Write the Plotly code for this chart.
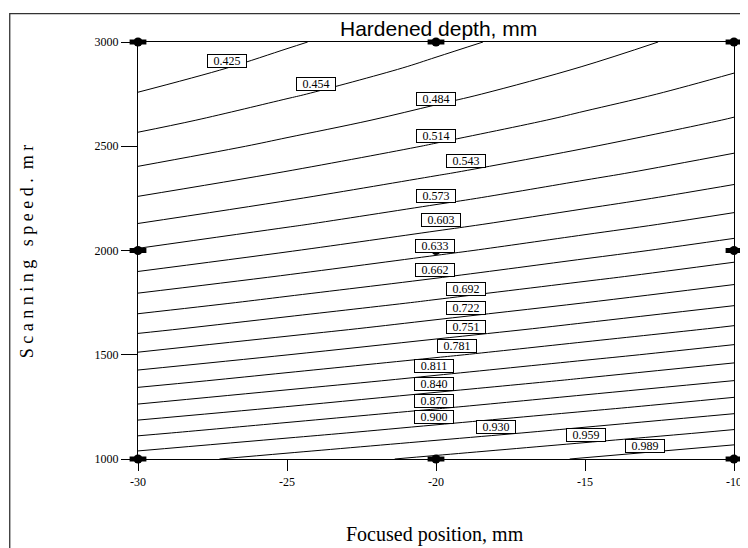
import plotly.graph_objects as go

# ---- data ----
focus_mm = [-30, -25, -20, -15, -10]
speed = [1000, 1125, 1250, 1375, 1500, 1625, 1750, 1875, 2000,
         2125, 2250, 2375, 2500, 2625, 2750, 2875, 3000]
# hardened depth (mm) estimated at each (speed row, focus column)
depth = [
    [0.9158, 0.9411, 0.9663, 0.9916, 1.0168],
    [0.8646, 0.8898, 0.9151, 0.9403, 0.9656],
    [0.8159, 0.8411, 0.8664, 0.8916, 0.9169],
    [0.7696, 0.7949, 0.8201, 0.8454, 0.8706],
    [0.7259, 0.7512, 0.7764, 0.8017, 0.8269],
    [0.6847, 0.7099, 0.7352, 0.7604, 0.7857],
    [0.6460, 0.6712, 0.6965, 0.7217, 0.7470],
    [0.6097, 0.6350, 0.6602, 0.6855, 0.7107],
    [0.5760, 0.6013, 0.6265, 0.6518, 0.6770],
    [0.5448, 0.5700, 0.5953, 0.6205, 0.6458],
    [0.5161, 0.5413, 0.5666, 0.5918, 0.6171],
    [0.4898, 0.5151, 0.5403, 0.5656, 0.5908],
    [0.4661, 0.4914, 0.5166, 0.5419, 0.5671],
    [0.4449, 0.4701, 0.4954, 0.5206, 0.5459],
    [0.4262, 0.4514, 0.4767, 0.5019, 0.5272],
    [0.4099, 0.4352, 0.4604, 0.4857, 0.5109],
    [0.3962, 0.4215, 0.4467, 0.4720, 0.4972],
]
level_labels = ["0.425", "0.454", "0.484", "0.514", "0.543", "0.573", "0.603",
                "0.633", "0.662", "0.692", "0.722", "0.751", "0.781", "0.811",
                "0.840", "0.870", "0.900", "0.930", "0.959", "0.989"]
design_focus = [-30, -20, -10, -30, -20, -10, -30, -20, -10]
design_speed = [1000, 1000, 1000, 2000, 2000, 2000, 3000, 3000, 3000]
x_ticks = [-30, -25, -20, -15, -10]
x_tick_text = ["-30", "-25", "-20", "-15", "-10"]
y_ticks = [1000, 1500, 2000, 2500, 3000]

# ---- label placement (layout) ----
label_x = [-27.02, -24.04, -20.0, -20.0, -19.0, -20.0, -19.83, -20.03, -20.03, -19.0,
           -19.0, -19.0, -19.3, -20.07, -20.07, -20.07, -20.07, -17.98, -14.98, -12.98]
label_y = [2907, 2800, 2729, 2549, 2427, 2260, 2145, 2020, 1905, 1813,
           1722, 1631, 1540, 1444, 1360, 1276, 1203, 1153, 1115, 1062]

lv0 = float(level_labels[0])
lv1 = float(level_labels[-1])
step = (lv1 - lv0) / (len(level_labels) - 1)

fig = go.Figure()
fig.add_trace(go.Contour(
    x=focus_mm, y=speed, z=depth,
    contours=dict(start=lv0, end=lv1 + step * 0.01, size=step,
                  coloring="none", showlabels=False),
    line=dict(color="black", width=1, smoothing=1.0),
    showscale=False, hoverinfo="skip",
))
fig.add_trace(go.Scatter(
    x=design_focus, y=design_speed, mode="markers",
    marker=dict(symbol="line-ew", size=12, color="black",
                line=dict(width=5, color="black")),
    cliponaxis=False, showlegend=False, hoverinfo="skip",
))
fig.add_trace(go.Scatter(
    x=design_focus, y=design_speed, mode="markers",
    marker=dict(symbol="circle", size=9, color="black", line=dict(width=0)),
    cliponaxis=False, showlegend=False, hoverinfo="skip",
))

serif = "Liberation Serif, Times New Roman, serif"
sans = "Liberation Sans, Arial, sans-serif"

annotations = []
for t, lx, ly in zip(level_labels, label_x, label_y):
    annotations.append(dict(
        x=lx, y=ly, xref="x", yref="y", text=t, showarrow=False,
        font=dict(family=serif, size=12, color="black"),
        bgcolor="white", bordercolor="black", borderwidth=1, borderpad=0,
        width=38, height=12, xanchor="center", yanchor="middle",
    ))

annotations.append(dict(
    x=0.505, y=1.033, xref="paper", yref="paper", text="Hardened depth, mm",
    showarrow=False, font=dict(family=sans, size=21, color="black"),
    xanchor="center", yanchor="middle"))
annotations.append(dict(
    x=0.4985, y=-0.181, xref="paper", yref="paper", text="Focused position, mm",
    showarrow=False, font=dict(family=serif, size=20, color="black"),
    xanchor="center", yanchor="middle"))
annotations.append(dict(
    x=-0.187, y=0.497, xref="paper", yref="paper",
    text="S c a n n i n g   s p e e d .  m r", textangle=-90,
    showarrow=False, font=dict(family=serif, size=18, color="black"),
    xanchor="center", yanchor="middle"))

# the page body adds an 8 px margin, so the figure is 8 px smaller and shifted
fig.update_layout(
    width=740, height=540,
    margin=dict(l=130, r=6, t=34, b=89),
    paper_bgcolor="white", plot_bgcolor="white",
    showlegend=False,
    annotations=annotations,
    shapes=[dict(type="rect", xref="paper", yref="paper",
                 x0=-0.2152, x1=1.5, y0=-0.5, y1=1.068,
                 line=dict(color="#333333", width=1.3), layer="below")],
    xaxis=dict(range=[-30, -10], tickvals=x_ticks, ticktext=x_tick_text,
               ticks="outside", ticklen=11, tickwidth=1, tickcolor="black",
               ticklabeloverflow="allow",
               showline=True, linecolor="black", linewidth=1.3, mirror=True,
               showgrid=False, zeroline=False,
               tickfont=dict(family=serif, size=12, color="black")),
    yaxis=dict(range=[1000, 3000], tickvals=y_ticks,
               ticks="outside", ticklen=16, tickwidth=1, tickcolor="black",
               showline=True, linecolor="black", linewidth=1.3, mirror=True,
               showgrid=False, zeroline=False,
               tickfont=dict(family=serif, size=12, color="black")),
)

fig.write_html("out.html")
